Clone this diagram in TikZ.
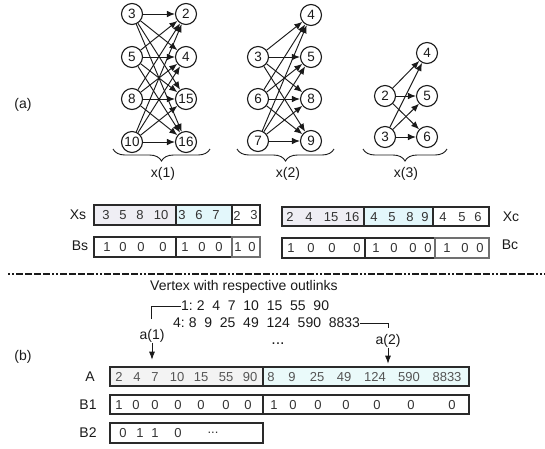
\documentclass[tikz,border=0pt]{standalone}
\usepackage{fontspec}
\setmainfont{Liberation Sans}
\usetikzlibrary{arrows.meta,decorations.pathreplacing}
\definecolor{cellgray}{HTML}{EFEEF4}
\definecolor{cellcyan}{HTML}{E3F7FB}
\definecolor{agray}{HTML}{F3F3F3}
\definecolor{acyan}{HTML}{EAFAFA}
\definecolor{ink}{HTML}{1A1A1A}
\definecolor{celltext}{HTML}{333333}
\definecolor{atext}{HTML}{555555}
\definecolor{frame}{HTML}{2A2A2A}
\definecolor{lightframe}{HTML}{707070}
\tikzset{
  vtx/.style={circle, draw=ink, line width=1.1pt, minimum size=21pt, inner sep=0pt,
    font=\fontsize{13.5}{13.5}\selectfont, text=ink},
  edge/.style={-{Latex[length=8pt,width=6.5pt]}, line width=0.95pt, draw=ink},
  lbl/.style={font=\fontsize{14}{14}\selectfont, text=ink, inner sep=0pt},
  cell/.style={font=\fontsize{13}{13}\selectfont, text=celltext, inner sep=0pt},
  acell/.style={font=\fontsize{13}{13}\selectfont, text=atext, inner sep=0pt},
  row/.style={draw=frame, line width=1.2pt},
  brc/.style={decorate, decoration={brace, amplitude=12pt}, line width=0.9pt, draw=ink},
  pointer/.style={-{Latex[length=8pt,width=6pt]}, line width=0.9pt, draw=ink},
  bracket/.style={line width=0.9pt, draw=ink}
}
\begin{document}
\begin{tikzpicture}[x=1pt,y=-1pt]
\useasboundingbox (0,0) rectangle (545,448);

% ---------- part (a): bipartite groups ----------
\node[lbl] (la) at (23,105) {(a)};

% group x(1)
\node[vtx] (p3)  at (132,14)  {3};
\node[vtx] (p5)  at (132,57)  {5};
\node[vtx] (p8)  at (132,99)  {8};
\node[vtx] (p10) at (132,142) {10};
\node[vtx] (q2)  at (186,14)  {2};
\node[vtx] (q4)  at (186,57)  {4};
\node[vtx] (q15) at (186,99)  {15};
\node[vtx] (q16) at (186,142) {16};
\foreach \s in {p3,p5,p8,p10}
  \foreach \t in {q2,q4,q15,q16}
    \draw[edge] (\s) -- (\t);

% group x(2)
\node[vtx] (r3) at (258,57)  {3};
\node[vtx] (r6) at (258,99)  {6};
\node[vtx] (r7) at (258,141) {7};
\node[vtx] (s4) at (311,15)  {4};
\node[vtx] (s5) at (311,57)  {5};
\node[vtx] (s8) at (311,99)  {8};
\node[vtx] (s9) at (311,141) {9};
\foreach \s in {r3,r6,r7}
  \foreach \t in {s4,s5,s8,s9}
    \draw[edge] (\s) -- (\t);

% group x(3)
\node[vtx] (u2) at (385,96)  {2};
\node[vtx] (u3) at (385,137) {3};
\node[vtx] (w4) at (427,53)  {4};
\node[vtx] (w5) at (427,96)  {5};
\node[vtx] (w6) at (427,137) {6};
\foreach \s in {u2,u3}
  \foreach \t in {w4,w5,w6}
    \draw[edge] (\s) -- (\t);

% braces and group names
\draw[brc] (210,149) -- (113,149);
\draw[brc] (334,149) -- (237,149);
\draw[brc] (447,149) -- (363,149);
\node[lbl] (gx1) at (163,174) {x(1)};
\node[lbl] (gx2) at (288,174) {x(2)};
\node[lbl] (gx3) at (406,174) {x(3)};

% ---------- arrays Xs / Bs ----------
\node[lbl] (nXs) at (78,215) {Xs};
\node[lbl] (nBs) at (80,246) {Bs};
\fill[cellgray] (94,205) rectangle (176,225);
\fill[cellcyan] (176,205) rectangle (232,225);
\draw[row] (94,205) rectangle (260,225);
\draw[row] (176,205) -- (176,225) (232,205) -- (232,225);
\foreach \x/\t [count=\i] in {106/3,123/5,140/8,161/10,182/3,199/6,216/7,237/2,254/3}
  \node[cell] (xs\i) at (\x,215.5) {\t};

\draw[row] (94,237) rectangle (232,257);
\draw[row] (176,237) -- (176,257);
\draw[line width=1.2pt, draw=lightframe] (232,237) rectangle (260,257);
\foreach \x/\t [count=\i] in {107/1,123/0,141/0,163/0,185/1,202/0,219/0,238/1,252/0}
  \node[cell] (bs\i) at (\x,247) {\t};

% ---------- arrays Xc / Bc ----------
\node[lbl] (nXc) at (511,217) {Xc};
\node[lbl] (nBc) at (510,245) {Bc};
\fill[cellgray] (282,207) rectangle (364,226);
\fill[cellcyan] (364,207) rectangle (433,226);
\draw[row] (282,207) rectangle (489,226);
\draw[row] (364,207) -- (364,226) (433,207) -- (433,226);
\foreach \x/\t [count=\i] in {290/2,309/4,331/15,352/16,374/4,392/5,410/8,425/9,443/4,462/5,478/6}
  \node[cell] (xc\i) at (\x,217) {\t};

\draw[row] (282,238) rectangle (435,258);
\draw[row] (365,238) -- (365,258);
\draw[line width=1.2pt, draw=lightframe] (435,238) rectangle (489,258);
\foreach \x/\t [count=\i] in {291/1,311/0,332/0,357/0,376/1,394/0,413/0,428/0,447/1,465/0,480/0}
  \node[cell] (bc\i) at (\x,248) {\t};

% ---------- separator ----------
\draw[line width=2.5pt, draw=ink,
  dash pattern=on 2pt off 2pt on 2pt off 2pt on 7pt off 2pt on 7pt off 2pt on 7pt off 2pt on 7pt off 2pt]
  (8,274) -- (545,274);

% ---------- part (b): adjacency arrays ----------
\node[lbl] (lb) at (23,357) {(b)};
\node[lbl] (vtitle) at (244,287) {Vertex with respective outlinks};
\node[lbl, anchor=west] (adj1) at (181,306) {1:\ 2\ \ 4\ \ 7\ \ 10\ \ 15\ \ 55\ \ 90};
\node[lbl, anchor=west] (adj4) at (173,323) {4:\ 8\ \ 9\ \ 25\ \ 49\ \ 124\ \ 590\ \ 8833};
\node[lbl, font=\fontsize{16}{16}\selectfont] (dots) at (278,344) {...};

\node[lbl] (a1) at (152,336) {a(1)};
\node[lbl] (a2) at (388,341) {a(2)};
\coordinate (a1top) at (151,319);
\coordinate (a2top) at (388,328);
\draw[bracket] (a1top) |- (adj1.west);
\draw[bracket] (adj4.east) -| (a2top);
\draw[pointer] (a1.south) -- ++(0,17);
\draw[pointer] (a2.south) -- ++(0,16);

\node[lbl] (nA)  at (90,377) {A};
\node[lbl] (nB1) at (88,405) {B1};
\node[lbl] (nB2) at (88,433) {B2};

\fill[agray] (110,367) rectangle (263,386);
\fill[acyan] (263,367) rectangle (469,386);
\draw[row, line width=1.4pt] (110,367) rectangle (469,386);
\draw[row, line width=1.2pt] (263,367) -- (263,386);
\foreach \x/\t [count=\i] in {119/2,137/4,155/7,177/10,201/15,226/55,250/90,271/8,292/9,317/25,344/49,375/124,409/590,447/8833}
  \node[acell] (ac\i) at (\x,377) {\t};

\draw[row, line width=1.4pt] (110,395) rectangle (469,414);
\draw[row, line width=1.2pt] (263,395) -- (263,414);
\foreach \x/\t [count=\i] in {119/1,136/0,155/0,178/0,201/0,226/0,248/0,274/1,293/0,318/0,346/0,377/0,411/0,452/0}
  \node[cell] (b1c\i) at (\x,405) {\t};

\draw[row] (110,423) rectangle (263,443);
\foreach \x/\t [count=\i] in {123/0,140/1,155/1,178/0}
  \node[cell] (b2c\i) at (\x,433) {\t};
\node[cell] (b2more) at (213,433) {...};
\end{tikzpicture}
\end{document}
